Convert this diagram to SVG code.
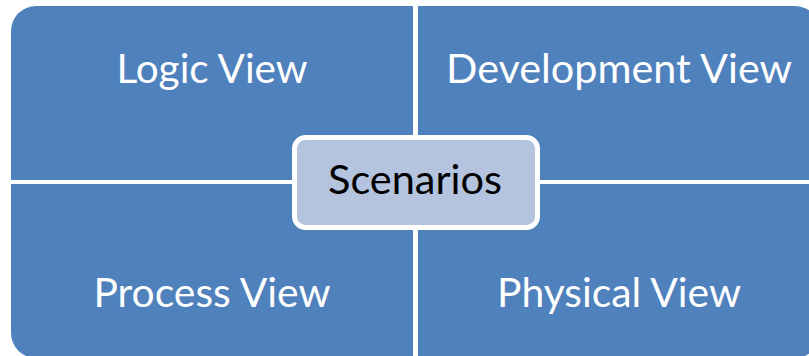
<svg xmlns="http://www.w3.org/2000/svg" width="809" height="356" viewBox="0 0 809 356">
  <style>
    .quad { fill: #4F81BD; }
    .qlabel { fill: #FFFFFF; font-family: Lato, "Open Sans", sans-serif; font-size: 40px; text-anchor: middle; }
    .center { fill: #B4C3DE; stroke: #FFFFFF; stroke-width: 5; }
    .clabel { fill: #000000; font-family: Lato, "Open Sans", sans-serif; font-size: 40px; text-anchor: middle; }
  </style>
  <rect width="809" height="356" fill="#FFFFFF"/>
  <g id="logic-view">
    <path class="quad" d="M11,180 V31 A25,25 0 0 1 36,6 H413 V180 Z"/>
    <text class="qlabel" x="212" y="82.5" textLength="191" lengthAdjust="spacingAndGlyphs">Logic View</text>
  </g>
  <g id="development-view">
    <path class="quad" d="M418,6 H795 A25,25 0 0 1 820,31 V180 H418 Z"/>
    <text class="qlabel" x="619" y="82.5" textLength="346" lengthAdjust="spacingAndGlyphs">Development View</text>
  </g>
  <g id="process-view">
    <path class="quad" d="M11,184 H413 V358 H36 A25,25 0 0 1 11,333 Z"/>
    <text class="qlabel" x="212" y="307" textLength="237" lengthAdjust="spacingAndGlyphs">Process View</text>
  </g>
  <g id="physical-view">
    <path class="quad" d="M418,184 H820 V333 A25,25 0 0 1 795,358 H418 Z"/>
    <text class="qlabel" x="619" y="307" textLength="244" lengthAdjust="spacingAndGlyphs">Physical View</text>
  </g>
  <g id="scenarios">
    <rect class="center" x="294.5" y="137.5" width="243" height="90" rx="11"/>
    <text class="clabel" x="415" y="194" textLength="174" lengthAdjust="spacingAndGlyphs">Scenarios</text>
  </g>
  <g id="connectors"/>
</svg>
